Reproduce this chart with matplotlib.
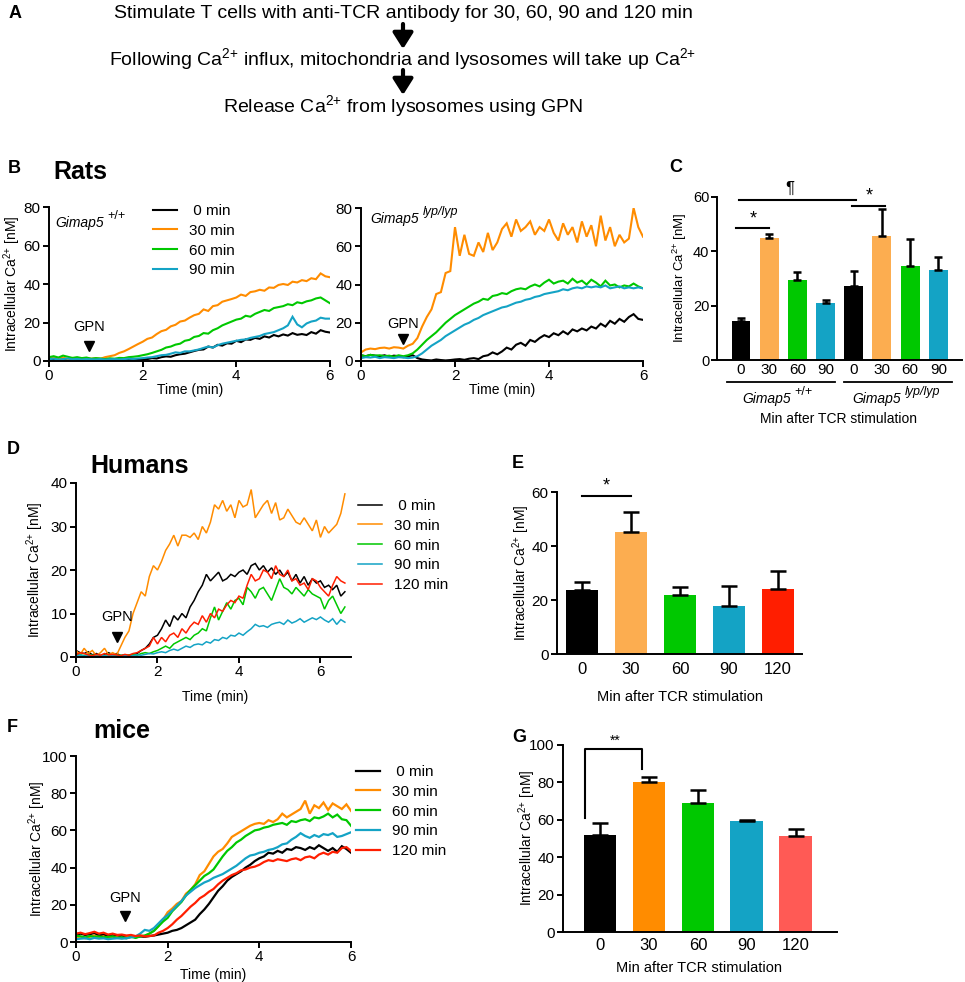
import matplotlib
matplotlib.use("Agg")
import matplotlib.pyplot as plt
import numpy as np

plt.rcParams["font.family"] = ["Liberation Sans", "DejaVu Sans"]
plt.rcParams["mathtext.fontset"] = "custom"
plt.rcParams["mathtext.rm"] = "Liberation Sans"
plt.rcParams["mathtext.it"] = "Liberation Sans:italic"
plt.rcParams["mathtext.bf"] = "Liberation Sans:bold"
plt.rcParams["mathtext.default"] = "regular"

W, H = 965, 982

BLACK = "#000000"
ORANGE = "#ff8c00"
LIGHT_ORANGE = "#fcad50"
GREEN = "#00c800"
CYAN = "#14a3c5"
RED = "#ff1e00"
SALMON = "#ff5a55"

CA = "Ca$^{2{+}}$"
YLABEL = "Intracellular " + CA + " [nM]"
LEGEND_4 = [" 0 min", "30 min", "60 min", "90 min"]
LEGEND_5 = [" 0 min", "30 min", "60 min", "90 min", "120 min"]

# ---- B: rat traces, Gimap5 +/+ (0-6 min, 0.1 min steps) ----
t_rat = np.round(np.arange(61) * 0.1, 1)
rat_wt_0 = [1.0, 0.8, 1.2, 0.9, 0.7, 1.1, 0.8, 0.6, 0.9, 0.7, 0.5, 0.8, 0.6, 0.4, 0.5, 0.3, 0.4, 0.5, 0.3, 0.5,
            0.8, 1.0, 1.5, 1.3, 2.0, 2.4, 2.2, 3.0, 3.5, 3.8, 4.5, 5.2, 5.8, 6.0, 7.5, 7.0, 8.4, 8.0, 9.2, 9.0,
            10.5, 9.8, 11.2, 11.0, 12.0, 11.5, 12.8, 12.2, 13.5, 12.8, 13.8, 13.2, 14.5, 13.6, 14.0, 13.5, 15.0, 14.2,
            16.0, 15.2, 14.8]
rat_wt_30 = [1.5, 2.0, 1.2, 1.8, 1.0, 1.6, 1.3, 1.0, 1.5, 1.2, 1.4, 1.2, 2.0, 2.5, 3.0, 4.2, 5.0, 6.2, 7.5, 8.8,
             10.0, 11.5, 12.2, 14.0, 15.5, 16.2, 18.0, 18.8, 20.5, 21.0, 22.5, 23.8, 24.5, 26.8, 26.0, 28.5, 29.0, 30.8,
             31.5, 32.2, 33.0, 34.5, 33.8, 35.8, 36.2, 37.0, 36.5, 38.2, 38.0, 39.5, 40.0, 39.5, 41.2, 40.8, 42.0, 41.5,
             43.0, 42.5, 45.5, 44.0, 43.5]
rat_wt_60 = [2.0, 2.5, 1.8, 2.8, 2.2, 1.6, 2.0, 1.5, 1.8, 1.2, 1.5, 1.3, 1.0, 1.4, 1.2, 1.6, 1.5, 2.0, 2.2, 2.5,
             3.0, 3.5, 4.2, 5.0, 5.8, 7.0, 7.5, 8.5, 9.0, 10.5, 11.0, 12.5, 13.0, 14.5, 14.2, 16.0, 17.0, 18.5, 19.5,
             20.5, 21.5, 22.0, 23.5, 23.0, 24.5, 25.5, 26.5, 26.0, 27.5, 28.0, 28.5, 29.5, 29.0, 30.5, 30.0, 31.0, 31.5,
             32.5, 33.0, 31.5, 30.0]
rat_wt_90 = [1.0, 1.2, 0.8, 1.0, 1.3, 0.9, 1.1, 0.8, 1.0, 0.9, 0.8, 1.0, 0.7, 0.9, 1.0, 0.8, 1.0, 1.2, 1.1, 1.3,
             1.5, 1.8, 2.0, 2.5, 3.0, 3.2, 3.8, 4.5, 4.2, 5.0, 5.0, 5.5, 6.0, 6.8, 7.5, 7.0, 8.2, 9.0, 9.5, 10.0,
             10.5, 11.0, 11.2, 12.0, 12.5, 13.0, 14.0, 14.5, 15.0, 16.0, 17.0, 18.5, 23.0, 19.0, 17.5, 19.5, 20.5, 21.0,
             22.5, 22.0, 22.0]

# ---- B: rat traces, Gimap5 lyp/lyp ----
rat_lyp_0 = [3.0, 2.5, 3.2, 2.8, 2.5, 3.0, 2.2, 2.8, 2.5, 2.0, 2.5, 3.0, 1.5, 0.8, 0.5, 0.3, 0.8, 0.5, 0.3, 0.5,
             0.8, 1.0, 0.6, 1.2, 1.5, 1.0, 2.5, 3.0, 4.5, 3.5, 5.0, 7.0, 6.0, 8.5, 9.5, 8.0, 11.0, 10.0, 12.0, 13.5,
             12.5, 14.5, 13.5, 15.5, 14.0, 16.5, 15.5, 17.0, 16.0, 18.0, 17.0, 19.5, 18.0, 21.0, 19.5, 22.0, 20.5, 23.0,
             24.5, 22.0, 21.5]
rat_lyp_30 = [4.5, 6.0, 6.5, 6.2, 6.8, 7.0, 6.5, 7.2, 7.0, 6.5, 8.0, 9.0, 12.0, 18.0, 23.0, 27.0, 35.0, 36.0, 46.0,
              47.0, 70.0, 55.0, 66.0, 56.0, 55.0, 62.0, 57.0, 67.0, 58.0, 62.0, 69.0, 72.0, 65.0, 74.0, 68.0, 70.0,
              73.0, 66.0, 70.0, 68.0, 74.0, 67.0, 63.0, 72.0, 66.0, 70.0, 62.0, 73.0, 65.0, 71.0, 60.0, 76.0, 63.0,
              70.0, 60.0, 66.0, 62.0, 64.0, 80.0, 70.0, 65.0]
rat_lyp_60 = [3.0, 2.5, 3.2, 2.8, 3.0, 2.5, 2.8, 2.2, 3.0, 2.5, 3.0, 4.0, 6.0, 8.5, 11.0, 13.0, 15.0, 17.5, 20.0,
              22.0, 24.0, 25.5, 27.0, 28.5, 30.0, 31.0, 32.5, 32.0, 34.0, 34.5, 35.5, 35.0, 36.5, 37.5, 38.0, 37.5,
              39.0, 40.0, 39.0, 41.0, 42.5, 40.5, 41.5, 42.0, 40.5, 43.0, 41.0, 42.0, 40.0, 42.5, 41.0, 39.0, 42.0,
              39.5, 40.0, 38.5, 39.5, 39.0, 40.5, 39.0, 38.0]
rat_lyp_90 = [1.5, 2.0, 1.8, 2.2, 1.5, 2.0, 1.8, 1.5, 2.0, 1.8, 1.5, 1.8, 2.5, 4.0, 6.0, 8.0, 9.5, 11.0, 13.0, 14.5,
              16.0, 17.5, 19.0, 20.0, 21.5, 22.5, 24.0, 25.0, 26.0, 27.0, 28.0, 28.5, 29.5, 30.5, 31.0, 32.0, 32.5,
              33.5, 34.0, 35.0, 35.5, 36.0, 36.5, 37.5, 37.0, 38.0, 38.5, 38.0, 39.0, 38.5, 39.0, 38.5, 39.5, 38.0,
              38.5, 39.0, 38.0, 38.5, 38.0, 38.5, 38.0]

# ---- C: rat bars ----
c_labels = ["0", "30", "60", "90", "0", "30", "60", "90"]
c_means = [14.5, 45.0, 29.4, 20.9, 27.4, 45.8, 34.7, 33.2]
c_errs = [0.9, 1.4, 3.1, 1.2, 5.3, 9.7, 9.9, 4.6]
c_colors = [BLACK, LIGHT_ORANGE, GREEN, CYAN, BLACK, LIGHT_ORANGE, GREEN, CYAN]

# ---- D: human traces (0-6.6 min) ----
t_hum = np.round(np.arange(67) * 0.1, 1)
hum_0 = [1.5, 1.0, 0.8, 1.2, 0.5, 0.8, 0.3, 0.6, 1.0, 0.5, 0.8, 0.3, 0.5, 0.2, 0.5, 0.8, 1.5, 2.0, 3.0, 4.5,
         5.0, 6.5, 8.5, 7.0, 9.5, 8.5, 10.0, 9.0, 11.5, 13.0, 15.0, 16.5, 19.0, 17.5, 18.5, 19.5, 17.5, 18.0, 19.0,
         18.5, 19.5, 20.0, 19.0, 21.0, 21.5, 20.0, 21.0, 19.5, 20.5, 19.0, 20.0, 18.5, 19.5, 17.5, 19.0, 17.0, 18.5,
         16.5, 18.0, 17.0, 17.5, 16.0, 16.5, 15.5, 16.5, 14.0, 15.0]
hum_30 = [1.5, 0.5, 2.0, 0.8, 1.5, 0.3, 1.0, 2.0, 0.5, 1.0, 0.5, 2.5, 4.5, 6.0, 10.0, 12.5, 15.0, 14.0, 18.5, 21.0,
          20.0, 22.0, 24.5, 26.0, 28.0, 25.5, 28.0, 28.0, 27.5, 28.5, 27.0, 30.0, 28.5, 31.0, 35.0, 34.0, 36.0, 33.5,
          35.0, 32.0, 36.0, 34.5, 35.0, 38.5, 32.0, 33.5, 35.0, 36.0, 33.0, 35.5, 31.5, 32.0, 34.0, 32.5, 31.0, 30.5,
          32.0, 30.5, 29.0, 31.5, 27.5, 30.0, 28.5, 29.5, 30.5, 33.0, 37.5]
hum_60 = [0.8, 0.5, 0.3, 0.6, 0.4, 0.5, 0.3, 0.4, 0.6, 0.3, 0.5, 0.4, 0.3, 0.5, 0.6, 0.4, 0.8, 1.0, 0.8, 1.2,
          1.5, 2.0, 2.5, 2.0, 3.0, 3.5, 4.0, 4.5, 4.0, 5.0, 5.5, 6.5, 6.0, 9.0, 11.5, 8.5, 10.5, 12.5, 11.0, 13.0,
          13.5, 12.0, 16.0, 15.0, 13.5, 15.5, 16.0, 14.5, 13.0, 15.5, 18.0, 16.0, 15.5, 14.5, 16.0, 15.0, 14.0, 15.5,
          14.5, 14.0, 13.5, 11.0, 13.0, 14.0, 12.0, 10.0, 11.5]
hum_90 = [0.3, 0.5, 0.2, 0.4, 0.3, 0.2, 0.4, 0.3, 0.2, 0.3, 0.2, 0.3, 0.4, 0.2, 0.3, 0.5, 0.4, 0.6, 0.8, 0.7,
          1.0, 1.2, 1.0, 1.5, 1.8, 1.5, 2.0, 2.5, 2.2, 2.8, 3.0, 2.8, 3.5, 3.2, 4.0, 3.8, 4.5, 4.2, 5.0, 4.8,
          5.5, 5.0, 5.8, 6.5, 7.5, 7.0, 7.2, 6.8, 7.5, 7.8, 8.0, 7.5, 8.5, 7.8, 8.2, 8.8, 8.0, 8.5, 9.0, 8.6,
          9.2, 8.5, 8.0, 8.8, 7.5, 8.6, 8.0]
hum_120 = [0.5, 1.0, 0.8, 0.5, 0.3, 0.6, 0.4, 0.8, 0.5, 0.6, 0.5, 0.3, 0.6, 0.4, 0.8, 1.0, 1.5, 2.0, 2.5, 4.5,
           3.0, 4.5, 3.5, 5.0, 5.5, 4.5, 6.5, 5.5, 7.0, 8.0, 7.5, 9.5, 8.0, 10.0, 9.0, 11.0, 10.5, 12.0, 13.0, 12.5,
           14.0, 13.5, 16.5, 19.0, 17.5, 18.0, 20.0, 19.5, 18.0, 21.0, 19.0, 18.5, 20.0, 17.5, 18.0, 16.5, 17.0, 15.5,
           18.0, 17.5, 16.0, 15.0, 14.0, 16.5, 18.5, 17.5, 17.0]

# ---- E: human bars ----
e_labels = ["0", "30", "60", "90", "120"]
e_means = [23.6, 45.1, 22.0, 17.7, 24.0]
e_errs = [3.1, 7.6, 2.7, 7.4, 6.6]
e_colors = [BLACK, LIGHT_ORANGE, GREEN, CYAN, RED]

# ---- F: mouse traces (0-6 min) ----
t_mouse = np.round(np.arange(61) * 0.1, 1)
mouse_0 = [4.0, 4.5, 3.8, 4.2, 4.8, 3.5, 4.0, 3.2, 3.8, 3.0, 3.5, 2.8, 3.2, 2.5, 3.0, 2.8, 3.2, 3.5, 4.0, 4.5,
           5.0, 6.0, 6.5, 7.5, 9.0, 10.5, 12.0, 15.0, 17.5, 20.5, 24.0, 27.5, 30.0, 33.0, 35.0, 36.5, 38.0, 40.0,
           41.5, 43.5, 45.0, 46.0, 48.0, 47.5, 49.0, 48.0, 50.0, 49.5, 51.0, 50.5, 49.5, 51.0, 50.0, 52.0, 50.5,
           49.0, 50.5, 48.5, 51.5, 50.0, 48.0]
mouse_30 = [2.5, 3.0, 2.0, 2.8, 3.5, 2.5, 3.0, 2.2, 2.8, 2.5, 2.0, 2.5, 3.0, 2.8, 3.5, 3.2, 4.5, 6.0, 8.5, 12.0,
            16.0, 18.0, 20.5, 22.0, 26.0, 28.0, 31.0, 36.0, 38.0, 42.0, 46.0, 48.5, 50.0, 53.0, 56.5, 58.0, 59.5,
            61.0, 62.5, 63.5, 64.0, 63.5, 65.5, 64.5, 66.0, 69.0, 67.0, 68.5, 70.0, 71.5, 76.0, 69.0, 73.5, 72.0,
            75.0, 71.0, 74.5, 73.0, 71.5, 74.0, 70.5]
mouse_60 = [3.5, 3.0, 2.5, 3.2, 2.8, 3.0, 2.5, 2.8, 3.0, 2.2, 2.5, 2.0, 2.8, 2.2, 3.0, 3.5, 4.5, 6.0, 8.5, 11.0,
            13.0, 16.5, 19.0, 21.5, 25.0, 28.0, 30.5, 33.0, 35.5, 37.0, 39.0, 42.5, 46.0, 49.0, 51.0, 53.5, 55.0,
            57.0, 58.5, 60.0, 60.5, 61.5, 62.0, 63.0, 63.5, 64.0, 63.0, 65.0, 64.5, 65.5, 66.0, 65.0, 67.0, 66.5,
            67.5, 69.0, 67.0, 68.5, 66.0, 65.5, 62.5]
mouse_90 = [1.5, 1.8, 2.0, 1.5, 2.2, 1.8, 2.0, 1.5, 1.8, 2.0, 1.8, 2.0, 2.5, 3.0, 4.5, 6.5, 6.0, 7.5, 10.0, 12.5,
            14.5, 17.0, 19.5, 22.0, 25.0, 27.0, 29.0, 30.5, 32.0, 33.0, 34.5, 35.5, 36.5, 38.0, 39.5, 41.0, 43.0,
            45.0, 46.5, 47.0, 48.0, 48.5, 49.5, 50.0, 51.0, 52.5, 53.0, 55.0, 56.5, 58.5, 57.0, 56.0, 57.5, 56.5,
            58.0, 57.5, 58.5, 56.5, 57.0, 58.0, 59.0]
mouse_120 = [4.5, 5.0, 4.2, 4.8, 5.5, 4.5, 5.0, 4.0, 4.5, 3.8, 4.0, 3.5, 3.8, 3.2, 3.5, 3.0, 3.2, 3.5, 5.0, 6.0,
             7.5, 9.5, 12.0, 14.0, 16.5, 19.0, 21.0, 23.5, 25.0, 27.0, 28.5, 31.0, 33.0, 34.5, 36.0, 37.0, 38.5,
             39.0, 40.0, 40.5, 41.5, 43.0, 44.0, 43.5, 44.5, 44.0, 43.5, 44.5, 45.0, 44.0, 45.5, 46.0, 45.0, 47.0,
             48.0, 47.0, 48.5, 48.0, 50.5, 51.0, 49.0]

# ---- G: mouse bars ----
g_labels = ["0", "30", "60", "90", "120"]
g_means = [52.0, 80.2, 69.1, 59.2, 51.5]
g_errs = [6.4, 2.7, 6.8, 0.5, 3.4]
g_colors = [BLACK, ORANGE, GREEN, CYAN, SALMON]


def px_axes(fig, left, top, right, bottom):
    return fig.add_axes([left / W, 1 - bottom / H, (right - left) / W, (bottom - top) / H])


def style_axes(ax, lw=1.4, labelsize=11):
    ax.spines["top"].set_visible(False)
    ax.spines["right"].set_visible(False)
    for side in ("left", "bottom"):
        ax.spines[side].set_linewidth(lw)
    ax.tick_params(direction="out", length=4, width=lw, labelsize=labelsize, pad=2)
    ax.set_facecolor("none")


def trace_panel(ax, t, series, colors, labels, lw, xmax, ymax, ystep):
    for vals, color, label in zip(series, colors, labels):
        ax.plot(t, vals, color=color, lw=lw, label=label, solid_joinstyle="miter")
    ax.set_xlim(0, xmax)
    ax.set_ylim(0, ymax)
    ax.set_xticks([0, 2, 4, 6])
    ax.set_yticks(np.arange(0, ymax + 1, ystep))
    style_axes(ax)


def add_legend(ax, fig, x, y):
    ax.legend(loc="upper left", bbox_to_anchor=(x / W, 1 - y / H), bbox_transform=fig.transFigure,
              frameon=False, fontsize=11, handlelength=1.6, handletextpad=0.75,
              labelspacing=0.38, borderpad=0, borderaxespad=0)


def gpn(ax, x, y_text, y_arrow):
    ax.text(x, y_text, "GPN", ha="center", va="center", fontsize=10.5)
    ax.plot([x], [y_arrow], marker="v", ms=7, color="k", clip_on=False)


def gimap(x, y, sup, size=10, ha="left"):
    base = over.text(x, y, "Gimap5", fontsize=size, style="italic", ha=ha, va="center")
    over.annotate(sup, xy=(1, 0.55), xycoords=base, xytext=(3, 0), textcoords="offset points",
                  fontsize=size - 1, style="italic" if "lyp" in sup else "normal",
                  ha="left", va="bottom")


def bar_panel(ax, labels, means, errs, colors, width, capsize, xlim, ymax, ystep, label_size, pad):
    x = np.arange(len(means))
    ax.bar(x, means, width=width, color=colors, edgecolor="none", zorder=2)
    ax.errorbar(x, means, yerr=[np.zeros(len(errs)), errs], fmt="none", ecolor="k",
                elinewidth=1.8, capsize=capsize, capthick=1.8, zorder=3)
    ax.set_xlim(*xlim)
    ax.set_ylim(0, ymax)
    ax.set_yticks(np.arange(0, ymax + 1, ystep))
    ax.set_xticks(x)
    ax.set_xticklabels(labels)
    style_axes(ax)
    ax.tick_params(axis="x", length=0, labelsize=label_size, pad=pad)


fig = plt.figure(figsize=(W / 100, H / 100), dpi=100)
fig.patch.set_facecolor("white")

# overlay in pixel coordinates for free text
over = fig.add_axes([0, 0, 1, 1], zorder=10)
over.set_xlim(0, W)
over.set_ylim(H, 0)
over.axis("off")

# ---- A ----
over.text(15, 13, "A", fontsize=13, fontweight="bold", ha="center", va="center")
over.text(403, 13, "Stimulate T cells with anti-TCR antibody for 30, 60, 90 and 120 min",
          fontsize=14, ha="center", va="center")
over.text(403, 59, "Following " + CA + " influx, mitochondria and lysosomes will take up " + CA,
          fontsize=14, ha="center", va="center")
over.text(403, 106, "Release " + CA + " from lysosomes using GPN", fontsize=14, ha="center", va="center")
for y0, y1 in [(24, 49), (70, 95)]:
    over.annotate("", xy=(403, y1), xytext=(403, y0),
                  arrowprops=dict(arrowstyle="-|>,head_width=0.38,head_length=0.6", lw=3,
                                  color="k", mutation_scale=16, shrinkA=0, shrinkB=0))

# ---- B ----
over.text(14, 168, "B", fontsize=13, fontweight="bold", ha="center", va="center")
over.text(53, 172, "Rats", fontsize=18, fontweight="bold", ha="left", va="center")

ax_bl = px_axes(fig, 49, 207, 330, 361)
trace_panel(ax_bl, t_rat, [rat_wt_0, rat_wt_30, rat_wt_60, rat_wt_90],
            [BLACK, ORANGE, GREEN, CYAN], LEGEND_4, 1.5, 6, 80, 20)
add_legend(ax_bl, fig, 153, 204)
gpn(ax_bl, 0.85, 17.5, 8.0)
gimap(55, 223, "+/+")
over.text(12, 284, YLABEL, fontsize=10, rotation=90, ha="center", va="center")
over.text(190, 390, "Time (min)", fontsize=10, ha="center", va="center")

ax_br = px_axes(fig, 361, 208, 643, 361)
trace_panel(ax_br, t_rat, [rat_lyp_0, rat_lyp_30, rat_lyp_60, rat_lyp_90],
            [BLACK, ORANGE, GREEN, CYAN], LEGEND_4, 1.5, 6, 80, 20)
gpn(ax_br, 0.89, 19.5, 11.5)
gimap(370, 219, "lyp/lyp")
over.text(502, 390, "Time (min)", fontsize=10, ha="center", va="center")

# ---- C ----
over.text(676, 167, "C", fontsize=13, fontweight="bold", ha="center", va="center")
ax_c = px_axes(fig, 717, 197, 962, 360)
bar_panel(ax_c, c_labels, c_means, c_errs, c_colors, 0.67, 3.2, (-0.85, 7.84), 60, 20, 11, 2.5)
ax_c.tick_params(axis="y", labelsize=10.5, pad=1.5)
ax_c.plot([-0.18, 1.0], [48.6, 48.6], color="k", lw=1.5, clip_on=False)
ax_c.text(0.43, 52.0, "*", fontsize=13, ha="center", va="center")
ax_c.plot([-0.07, 4.08], [58.9, 58.9], color="k", lw=1.5, clip_on=False)
ax_c.text(1.74, 63.0, "¶", fontsize=12, ha="center", va="center")
ax_c.plot([3.94, 5.1], [56.8, 56.8], color="k", lw=1.5, clip_on=False)
ax_c.text(4.54, 60.3, "*", fontsize=13, ha="center", va="center")
over.plot([727, 835], [382, 382], color="k", lw=1.3)
over.plot([844, 952], [382, 382], color="k", lw=1.3)
gimap(742, 399, "+/+")
gimap(852, 399, "lyp/lyp")
over.text(838, 419, "Min after TCR stimulation", fontsize=10, ha="center", va="center")
over.text(680, 278, YLABEL, fontsize=9.5, rotation=90, ha="center", va="center")

# ---- D ----
over.text(13, 450, "D", fontsize=13, fontweight="bold", ha="center", va="center")
over.text(90, 466, "Humans", fontsize=18, fontweight="bold", ha="left", va="center")
ax_d = px_axes(fig, 76, 483, 351, 657)
trace_panel(ax_d, t_hum, [hum_0, hum_30, hum_60, hum_90, hum_120],
            [BLACK, ORANGE, GREEN, CYAN, RED], LEGEND_5, 1.1, 6.75, 40, 10)
add_legend(ax_d, fig, 358, 499)
gpn(ax_d, 1.0, 9.2, 4.6)
over.text(35, 570, YLABEL, fontsize=10, rotation=90, ha="center", va="center")
over.text(215, 697, "Time (min)", fontsize=10, ha="center", va="center")

# ---- E ----
over.text(518, 463, "E", fontsize=13, fontweight="bold", ha="center", va="center")
ax_e = px_axes(fig, 557, 492, 802, 654)
bar_panel(ax_e, e_labels, e_means, e_errs, e_colors, 0.65, 6, (-0.51, 4.49), 60, 20, 12, 6)
ax_e.plot([0, 1], [58.5, 58.5], color="k", lw=1.5, clip_on=False)
ax_e.text(0.49, 62.3, "*", fontsize=13, ha="center", va="center")
over.text(521, 573, YLABEL, fontsize=10, rotation=90, ha="center", va="center")
over.text(680, 697, "Min after TCR stimulation", fontsize=10.5, ha="center", va="center")

# ---- F ----
over.text(12, 728, "F", fontsize=13, fontweight="bold", ha="center", va="center")
over.text(93, 731, "mice", fontsize=18, fontweight="bold", ha="left", va="center")
ax_f = px_axes(fig, 76, 756, 351, 942)
trace_panel(ax_f, t_mouse, [mouse_0, mouse_30, mouse_60, mouse_90, mouse_120],
            [BLACK, ORANGE, GREEN, CYAN, RED], LEGEND_5, 1.6, 6, 100, 20)
add_legend(ax_f, fig, 356, 765)
gpn(ax_f, 1.07, 23.5, 14.0)
over.text(37, 849, YLABEL, fontsize=10, rotation=90, ha="center", va="center")
over.text(213, 975, "Time (min)", fontsize=10, ha="center", va="center")

# ---- G ----
over.text(519, 738, "G", fontsize=13, fontweight="bold", ha="center", va="center")
ax_g = px_axes(fig, 563, 745, 837, 932)
bar_panel(ax_g, g_labels, g_means, g_errs, g_colors, 0.67, 6, (-0.755, 4.84), 100, 20, 12, 4)
ax_g.plot([-0.31, -0.31, 0.86, 0.86], [61, 98, 98, 87], color="k", lw=1.5, clip_on=False)
ax_g.text(0.31, 102.5, "**", fontsize=10, ha="center", va="center")
over.text(527, 838, YLABEL, fontsize=10, rotation=90, ha="center", va="center")
over.text(699, 968, "Min after TCR stimulation", fontsize=10.5, ha="center", va="center")

fig.savefig("out.png", dpi=100, facecolor="white")
